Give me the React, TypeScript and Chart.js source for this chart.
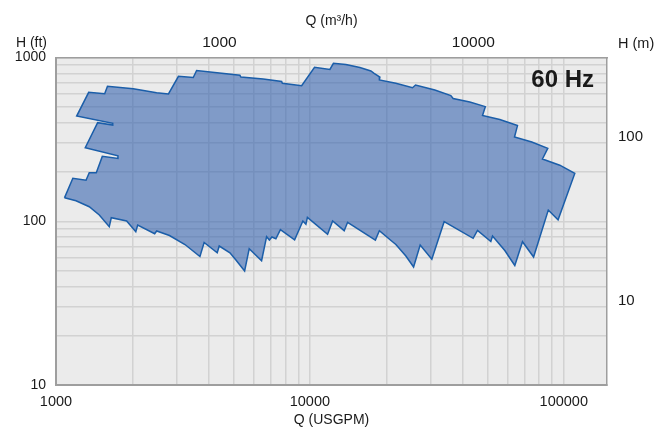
import React, { useEffect, useRef } from 'react';
import { Chart, registerables } from 'chart.js';

Chart.register(...registerables);

// Envelope outline of the pump coverage (clockwise, closed)
const flowUSGPM: number[] = [
  1080, 1165, 1313, 1352, 1441, 1522, 1754, 1754, 1304, 1459, 1673, 1673, 1206, 1345, 1555, 1595,
  2015, 2490, 2773, 3036, 3472, 3580, 5300, 5350, 6550, 7740, 7790, 9280, 10430, 11990, 12380,
  13860, 15740, 17390, 17910, 18870, 18780, 21810, 25370, 26070, 31050, 35910, 36670, 42650,
  49090, 47860, 55980, 65720, 63960, 74820, 86500, 82420, 96450, 110500,
  94970, 86900, 76050, 68770, 64140, 58580, 52400, 51600, 45730, 43950, 33790, 30220, 27190,
  25610, 23880, 21810, 20980, 18780, 18110, 14080, 13650, 12290, 11740, 9777, 9645, 9385, 8706,
  7653, 7346, 7086, 6927, 6753, 6453, 5768, 5533, 5113, 4842, 4395, 4315, 3832, 3689, 3220,
  2798, 2492, 2447, 2098, 2062, 1898, 1651, 1621, 1481, 1352, 1199, 1080,
];
const headFt: number[] = [
  139, 183, 178, 198, 198, 249, 242, 251, 281, 400, 387, 396, 439, 613, 601, 667,
  645, 610, 599, 768, 755, 833, 779, 760, 739, 714, 696, 673, 871, 845, 922,
  906, 869, 827, 801, 760, 729, 696, 654, 679, 633, 585, 562, 535,
  501, 442, 418, 384, 327, 305, 279, 240, 220, 196,
  102, 117, 60.5, 75, 53.7, 66.3, 81.3, 75.2, 87.8, 78.7, 99.4, 58.6, 71.6,
  52.6, 61.3, 72.1, 75.8, 87.6, 76.8, 98.5, 87.6, 100.3, 83.2, 105.7, 95.8, 100.3, 77.1,
  88.8, 78.2, 80.1, 76.8, 80.5, 57.4, 68, 49.7, 58, 64.2, 70.6, 64.2, 74.2, 60.9, 72.1,
  81.8, 87.2, 83.9, 94.9, 86.4, 100.3, 105.1, 92.6, 109.2, 122.7, 133.5, 139,
];

const xGridValues = [1000, 2000, 3000, 4000, 5000, 6000, 7000, 8000, 9000, 10000, 20000, 30000, 40000, 50000, 60000, 70000, 80000, 90000, 100000];
const xLabelValues = [1000, 10000, 100000];
const yGridValues = [10, 20, 30, 40, 50, 60, 70, 80, 90, 100, 200, 300, 400, 500, 600, 700, 800, 900, 1000];
const yLabelValues = [10, 100, 1000];
const topLabelValues = [1000, 10000];   // m³/h
const rightLabelValues = [10, 100];     // m

const GPM_PER_M3H = 4.402868;
const FT_PER_M = 3.28084;
const Q_MIN = 1000;
const Q_MAX = 148000;
const H_MIN = 10;
const H_MAX = 1000;

const bottomTitle = 'Q (USGPM)';
const topTitle = 'Q (m³/h)';
const leftTitle = 'H (ft)';
const rightTitle = 'H (m)';
const freqLabel = '60 Hz';

export default function App() {
  const ref = useRef<HTMLCanvasElement>(null);

  useEffect(() => {
    const canvas = ref.current;
    if (!canvas) return;
    const points = flowUSGPM.map((q, i) => ({ x: q, y: headFt[i] }));
    const fam = "'Liberation Sans', Arial, Helvetica, sans-serif";
    const txt = '#1a1a1a';
    const same = (a: number, b: number) => Math.abs(a - b) <= Math.abs(b) * 1e-6;
    const labelFrom = (arr: number[]) => (v: any) =>
      arr.some((a) => same(Number(v), a)) ? String(Math.round(Number(v))) : '';
    const setTicks = (arr: number[]) => (s: any) => {
      s.ticks = arr.map((v) => ({ value: v }));
    };
    const borderCol = '#9e9e9e';
    const gridCol = '#d2d2d2';

    const decor = {
      id: 'decor',
      beforeDraw(chart: any) {
        const { ctx, chartArea: a } = chart;
        ctx.save();
        ctx.fillStyle = '#ebebeb';
        ctx.fillRect(a.left, a.top, a.right - a.left, a.bottom - a.top);
        ctx.restore();
      },
      afterDraw(chart: any) {
        const { ctx, chartArea: a } = chart;
        ctx.save();
        ctx.fillStyle = txt;
        ctx.textBaseline = 'middle';
        ctx.font = `14px ${fam}`;
        ctx.textAlign = 'right';
        ctx.fillText(leftTitle, a.left - 9, a.top - 14);
        ctx.textAlign = 'left';
        ctx.font = `14.5px ${fam}`;
        ctx.fillText(rightTitle, a.right + 11, a.top - 14);
        ctx.font = `bold 24px ${fam}`;
        ctx.textAlign = 'right';
        ctx.fillText(freqLabel, a.right - 13, a.top + 23);
        ctx.restore();
      },
    };

    const chart = new Chart(canvas, {
      type: 'scatter',
      data: {
        datasets: [
          {
            data: points,
            showLine: true,
            fill: 'shape',
            backgroundColor: 'rgba(40,89,172,0.55)',
            borderColor: '#1b5ea9',
            borderWidth: 1.5,
            pointRadius: 0,
            pointHoverRadius: 0,
            tension: 0,
          } as any,
        ],
      },
      options: {
        responsive: false,
        animation: false,
        events: [],
        layout: { padding: 0 },
        plugins: { legend: { display: false }, tooltip: { enabled: false } },
        scales: {
          x: {
            type: 'logarithmic',
            position: 'bottom',
            min: Q_MIN,
            max: Q_MAX,
            afterBuildTicks: setTicks(xGridValues),
            afterFit: (s: any) => { s.height = 44; },
            ticks: { autoSkip: false, maxRotation: 0, padding: 8, color: txt, font: { family: fam, size: 14.5 }, callback: labelFrom(xLabelValues) },
            grid: { color: gridCol, lineWidth: 1.5, drawTicks: false },
            border: { color: borderCol, width: 2 },
            title: { display: true, text: bottomTitle, color: txt, font: { family: fam, size: 14 }, padding: { top: 0, bottom: 0 } },
          },
          x2: {
            type: 'logarithmic',
            position: 'top',
            min: Q_MIN / GPM_PER_M3H,
            max: Q_MAX / GPM_PER_M3H,
            afterBuildTicks: setTicks(topLabelValues),
            afterFit: (s: any) => { s.height = 57.5; },
            ticks: { autoSkip: false, maxRotation: 0, padding: 5, color: txt, font: { family: fam, size: 15.5 }, callback: labelFrom(topLabelValues) },
            grid: { display: false, drawTicks: false },
            border: { color: borderCol, width: 1.5 },
            title: { display: true, text: topTitle, color: txt, font: { family: fam, size: 14 }, padding: { top: 12.5, bottom: 0 } },
          },
          y: {
            type: 'logarithmic',
            position: 'left',
            min: H_MIN,
            max: H_MAX,
            afterBuildTicks: setTicks(yGridValues),
            afterFit: (s: any) => { s.width = 56; },
            ticks: { autoSkip: false, padding: 10, color: txt, font: { family: fam, size: 14 }, callback: labelFrom(yLabelValues) },
            grid: { color: gridCol, lineWidth: 1.5, drawTicks: false },
            border: { color: borderCol, width: 2 },
          },
          y2: {
            type: 'logarithmic',
            position: 'right',
            min: H_MIN / FT_PER_M,
            max: H_MAX / FT_PER_M,
            afterBuildTicks: setTicks(rightLabelValues),
            afterFit: (s: any) => { s.width = 64; },
            ticks: { autoSkip: false, padding: 11, color: txt, font: { family: fam, size: 15 }, callback: labelFrom(rightLabelValues) },
            grid: { display: false, drawTicks: false },
            border: { color: borderCol, width: 1.5 },
          },
        },
      } as any,
      plugins: [decor],
    });

    return () => chart.destroy();
  }, []);

  return (
    <div style={{ position: 'fixed', left: 0, top: 0, width: 671, height: 429, background: '#fff' }}>
      <canvas ref={ref} width={671} height={429} style={{ display: 'block', width: 671, height: 429 }} />
    </div>
  );
}
